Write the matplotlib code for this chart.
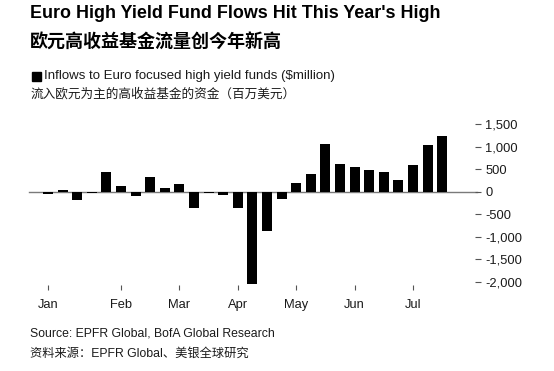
import matplotlib
matplotlib.use("Agg")
import matplotlib.pyplot as plt
from matplotlib.ticker import FuncFormatter

# ---- data ----
weekly_flows = [-55, 45, -190, -40, 425, 120, -105, 320, 80, 170, -365, -40, -80, -365,
                -2050, -880, -165, 187, 390, 1060, 620, 545, 478, 425, 255, 590, 1023, 1240]
month_labels = ["Jan", "Feb", "Mar", "Apr", "May", "Jun", "Jul"]
month_week_index = [0, 5, 9, 13, 17, 21, 25]
y_ticks = [-2000, -1500, -1000, -500, 0, 500, 1000, 1500]

title_en = "Euro High Yield Fund Flows Hit This Year's High"
title_cn = "欧元高收益基金流量创今年新高"
legend_en = "Inflows to Euro focused high yield funds ($million)"
legend_cn = "流入欧元为主的高收益基金的资金（百万美元）"
source_en = "Source: EPFR Global, BofA Global Research"
source_cn = "资料来源：EPFR Global、美银全球研究"

EN = ["Liberation Sans", "Noto Sans CJK SC", "DejaVu Sans"]
CN = ["Noto Sans CJK SC", "Liberation Sans", "DejaVu Sans"]

W, H = 554, 371
fig = plt.figure(figsize=(W / 100, H / 100), dpi=100)
fig.patch.set_facecolor("white")

def fx(px):
    return px / W

def fy(py):
    return 1 - py / H

left, right, top, bottom = 29, 475, 119.5, 284.5
ax = fig.add_axes([fx(left), fy(bottom), fx(right - left), (bottom - top) / H])

x = list(range(len(weekly_flows)))
ax.bar(x, weekly_flows, width=0.69, color="black", zorder=2)
ax.axhline(0, color="#7a7a7a", lw=1.0, xmin=0, xmax=1.005, clip_on=False, zorder=1)

ax.set_xlim(-1.30, 29.25)
ax.set_ylim(-2062, 1600)

for s in ax.spines.values():
    s.set_visible(False)

ax.set_xticks(month_week_index)
ax.set_xticklabels(month_labels, family=EN, fontsize=9.3, color="#1a1a1a")
ax.tick_params(axis="x", direction="out", length=3.3, width=0.8, color="#555555", pad=7)

ax.yaxis.tick_right()
ax.set_yticks(y_ticks)
ax.yaxis.set_major_formatter(FuncFormatter(lambda v, p: f"{int(v):,}"))
ax.tick_params(axis="y", direction="out", length=4.5, width=0.8, color="#555555",
               pad=3, labelsize=9.3, labelcolor="#1a1a1a")
for lab in ax.get_yticklabels():
    lab.set_family(EN)

# ---- texts ----
fig.text(fx(30), fy(13.5), title_en, family=EN, fontsize=12.9, fontweight="bold",
         va="center", ha="left", color="black")
fig.text(fx(30), fy(42.5), title_cn, family=CN, fontsize=13, fontweight="bold",
         va="center", ha="left", color="black")

fig.patches.append(plt.Rectangle((fx(31.7), fy(80.5)), fx(8.8), 8.8 / H,
                                 transform=fig.transFigure, color="black"))
fig.text(fx(44.5), fy(76), legend_en, family=EN, fontsize=9.5, va="center", ha="left",
         color="#1a1a1a")
fig.text(fx(30.5), fy(94.5), legend_cn, family=CN, fontsize=9.1, va="center", ha="left",
         color="#1a1a1a")

fig.text(fx(30.5), fy(334), source_en, family=EN, fontsize=8.85, va="center", ha="left",
         color="#1a1a1a")
fig.text(fx(30.5), fy(354), source_cn, family=EN, fontsize=8.8, va="center", ha="left",
         color="#1a1a1a")

fig.savefig("out.png", dpi=100, facecolor="white")
